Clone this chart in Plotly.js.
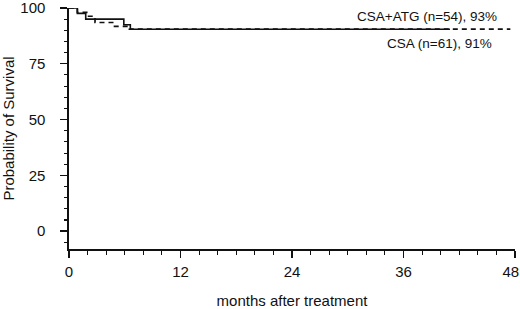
<!DOCTYPE html>
<html>
<head>
<meta charset="utf-8">
<script src="https://cdn.plot.ly/plotly-3.0.1.min.js"></script>
<style>html,body{margin:0;padding:0;background:#fff;}#chart{width:520px;height:309px;}</style>
</head>
<body>
<div id="chart"></div>
<script>
// CSA+ATG (solid) Kaplan-Meier steps
var atgMonths = [0, 0.9, 1.8, 5.9, 6.6, 41];
var atgSurvival = [100, 97.6, 95.0, 92.5, 90.5, 90.5];
// CSA (dashed) Kaplan-Meier steps
var csaMonths = [0, 0.9, 2.0, 2.8, 4.9, 6.5, 47.5];
var csaSurvival = [100, 98.0, 96.3, 93.5, 91.8, 90.5, 90.5];

var seriesLabels = ["CSA+ATG (n=54), 93%", "CSA (n=61), 91%"];
var xTicks = [0, 12, 24, 36, 48];
var xTickText = ["0", "12", "24", "36", "48\u00A0\u00A0"];
var yTicks = [0, 25, 50, 75, 100];

var font = "Liberation Sans, Arial, Helvetica, sans-serif";

var traces = [
  {x: csaMonths, y: csaSurvival, mode: "lines", line: {shape: "hv", color: "#111", width: 1.7, dash: "5px,4px"}, showlegend: false, hoverinfo: "skip"},
  {x: atgMonths, y: atgSurvival, mode: "lines", line: {shape: "hv", color: "#111", width: 1.6}, showlegend: false, hoverinfo: "skip"}
];

var layout = {
  width: 520, height: 309,
  margin: {l: 69, r: 5, t: 8, b: 60},
  paper_bgcolor: "#fff", plot_bgcolor: "#fff",
  font: {family: font, color: "#111", size: 15},
  xaxis: {
    range: [0, 48], tickvals: xTicks, ticktext: xTickText,
    showgrid: false, zeroline: false, showline: true, linecolor: "#111", linewidth: 1.6,
    ticks: "outside", ticklen: 7, tickwidth: 1.4, tickcolor: "#111",
    minor: {dtick: 2, ticks: "outside", ticklen: 4, tickwidth: 1.1, tickcolor: "#111", showgrid: false},
    tickfont: {size: 15, family: font},
    ticklabelstandoff: 1,
    ticklabeloverflow: "allow",
    title: {text: "months after treatment", font: {size: 15, family: font}, standoff: 18}
  },
  yaxis: {
    range: [-8, 100], tickvals: yTicks, ticktext: yTicks.map(String),
    showgrid: false, zeroline: false, showline: true, linecolor: "#111", linewidth: 1.6,
    ticks: "outside", ticklen: 7, tickwidth: 1.4, tickcolor: "#111",
    minor: {dtick: 5, tick0: 0, ticks: "outside", ticklen: 3, tickwidth: 1.1, tickcolor: "#111", showgrid: false},
    tickfont: {size: 15, family: font},
    ticklabelstandoff: 12,
    ticklabeloverflow: "allow",
    title: {text: "Probability of Survival", font: {size: 15, family: font}, standoff: 8}
  },
  annotations: [
    {x: 38.5, y: 96.4, xref: "x", yref: "y", text: seriesLabels[0], showarrow: false, font: {size: 13.5, family: font}},
    {x: 39.9, y: 84, xref: "x", yref: "y", text: seriesLabels[1], showarrow: false, font: {size: 13.5, family: font}}
  ]
};

Plotly.newPlot("chart", traces, layout, {staticPlot: true, displayModeBar: false});
</script>
</body>
</html>
